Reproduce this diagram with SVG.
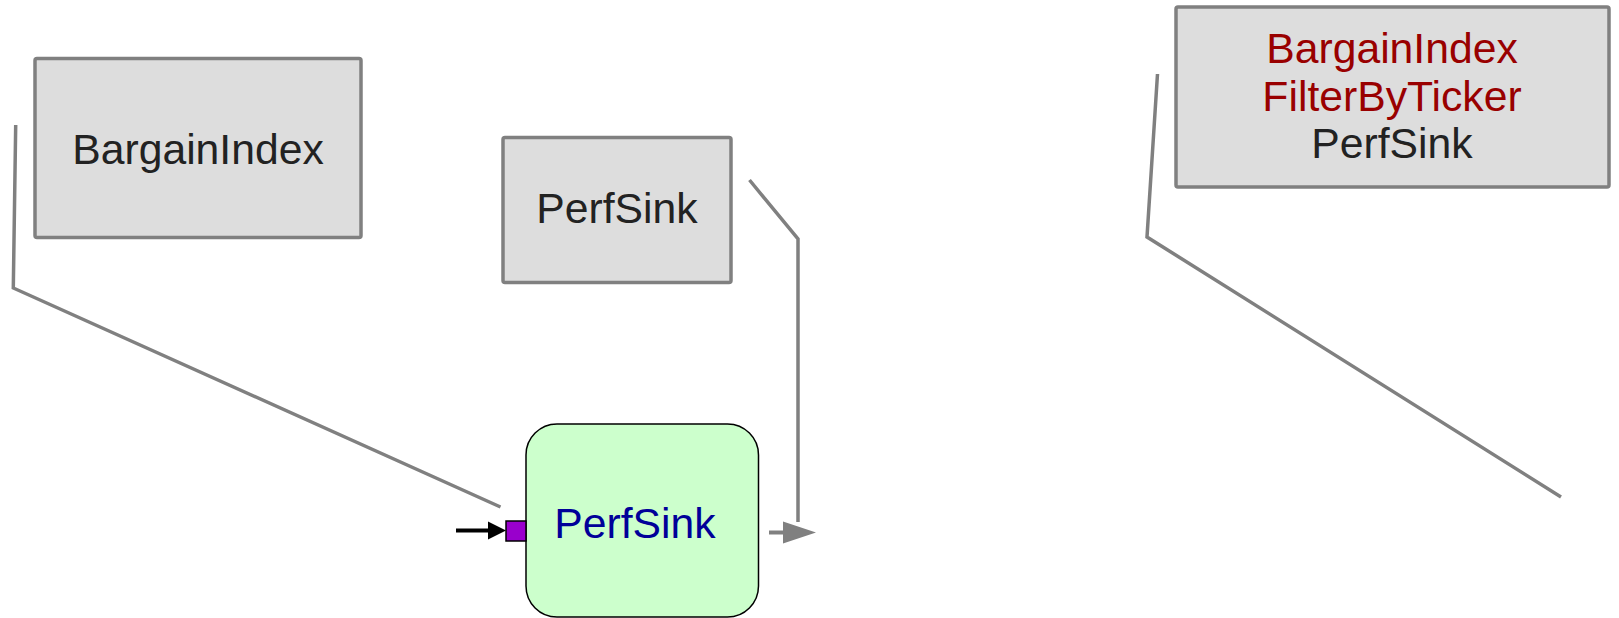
<svg xmlns="http://www.w3.org/2000/svg" width="1619" height="618" viewBox="0 0 1619 618">
  <style>
    .box { fill: #dddddd; stroke: #808080; stroke-width: 3.5; }
    .label { font-family: "Liberation Sans", Arial, sans-serif; font-size: 42.7px; text-anchor: middle; }
    .dark { fill: #222222; }
    .red { fill: #990000; }
    .blue { fill: #000099; }
    .wire { fill: none; stroke: #808080; stroke-width: 3.5; stroke-linejoin: miter; }
  </style>
  <rect width="1619" height="618" fill="#ffffff"/>

  <g id="connectors">
    <polyline class="wire" points="15.7,125 13.3,288 500.5,507"/>
    <polyline class="wire" points="749.5,180 798,239 798,522"/>
    <polyline class="wire" points="1157.5,74 1147,237 1561,497"/>
    <!-- output arrow of the sink -->
    <line x1="769" y1="532.5" x2="790" y2="532.5" stroke="#808080" stroke-width="4"/>
    <path d="M783,521.5 L816,532.5 L783,543.5 z" fill="#808080"/>
    <!-- input arrow into the port -->
    <line x1="456" y1="530.5" x2="492" y2="530.5" stroke="#000000" stroke-width="4"/>
    <path d="M488,521.5 L506,530.5 L488,539.5 z" fill="#000000"/>
  </g>

  <g id="node-bargainindex">
    <rect class="box" x="35" y="58.5" width="326" height="179" rx="2"/>
    <text class="label dark" x="198" y="164">BargainIndex</text>
  </g>

  <g id="node-perfsink-note">
    <rect class="box" x="503" y="137.5" width="228" height="145" rx="2"/>
    <text class="label dark" x="617" y="223">PerfSink</text>
  </g>

  <g id="node-summary">
    <rect class="box" x="1176" y="7" width="433" height="180" rx="2"/>
    <text class="label red" x="1392" y="63">BargainIndex</text>
    <text class="label red" x="1392" y="110.5">FilterByTicker</text>
    <text class="label dark" x="1392" y="157.5">PerfSink</text>
  </g>

  <g id="node-perfsink">
    <rect x="526" y="424" width="232.5" height="193" rx="31" ry="31" fill="#ccffcc" stroke="#000000" stroke-width="1.5"/>
    <text class="label blue" x="635" y="538">PerfSink</text>
    <rect x="506" y="521" width="20" height="20" fill="#9900cc" stroke="#000000" stroke-width="1.5"/>
  </g>
</svg>
